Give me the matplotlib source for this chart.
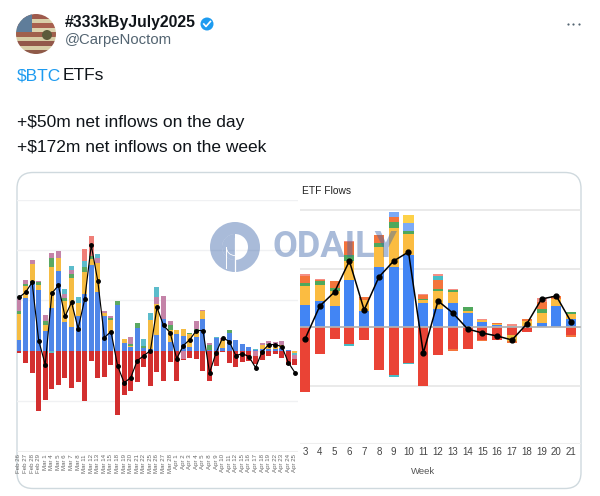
import matplotlib
matplotlib.use("Agg")
import matplotlib.pyplot as plt
from matplotlib.patches import Circle, FancyBboxPatch, Rectangle, Wedge

W, H = 600, 496
plt.rcParams['font.family'] = ['Liberation Sans', 'DejaVu Sans']

# left panel, daily flows in $m
days = ["Feb 26", "Feb 27", "Feb 28", "Feb 29", "Mar 1", "Mar 4", "Mar 5", "Mar 6", "Mar 7", "Mar 8", "Mar 11",
        "Mar 12", "Mar 13", "Mar 14", "Mar 15", "Mar 18", "Mar 19", "Mar 20", "Mar 21", "Mar 22", "Mar 25",
        "Mar 26", "Mar 27", "Mar 28", "Apr 1", "Apr 2", "Apr 3", "Apr 4", "Apr 5", "Apr 8", "Apr 9", "Apr 10",
        "Apr 11", "Apr 12", "Apr 15", "Apr 16", "Apr 17", "Apr 18", "Apr 19", "Apr 22", "Apr 23", "Apr 24", "Apr 25"]
day_blue = [110, 520, 690, 600, 200, 420, 790, 280, 240, 340, 560, 850, 580, 340, 180, 450, 80, 40, 230, 30, 20,
            160, 310, 90, 170, 150, 40, 140, 310, 10, 130, 30, 180, 110, 70, 35, 10, 20, 20, 20, 30, 10, 0]
day_yellow = [250, 120, 170, 50, 50, 410, 130, 210, 480, 130, 220, 60, 290, 30, 120, 0, 40, 10, 0, 0, 280,
              300, 0, 120, 40, 70, 130, 50, 80, 0, 0, 80, 0, 0, 0, 0, 0, 40, 40, 30, 30, 0, 0]
day_green = [35, 20, 0, 30, 40, 90, 0, 30, 40, 0, 50, 30, 0, 0, 20, 40, 0, 20, 40, 20, 0,
             0, 0, 40, 0, 0, 10, 30, 0, 50, 0, 0, 30, 0, 0, 0, 0, 0, 10, 0, 0, 0, 0]
day_purple = [115, 40, 40, 10, 60, 50, 70, 40, 40, 0, 0, 0, 50, 20, 20, 0, 0, 70, 0, 0, 0,
              70, 230, 40, 0, 0, 0, 70, 10, 20, 0, 20, 0, 0, 0, 0, 0, 20, 30, 40, 40, 0, 0]
day_teal = [0, 0, 0, 0, 0, 0, 0, 50, 40, 60, 60, 0, 40, 0, 0, 0, 0, 0, 0, 70, 70,
            100, 0, 0, 0, 0, 0, 0, 0, 0, 10, 0, 0, 0, 0, 0, 10, 0, 0, 0, 0, 0, 0]
day_salmon = [0, 0, 0, 0, 0, 0, 0, 0, 0, 0, 120, 200, 0, 0, 0, 0, 0, 0, 0, 0, 0,
              0, 0, 0, 0, 0, 0, 0, 0, 0, 0, 0, 0, 0, 0, 0, 0, 0, 0, 0, 0, 0, 0]
day_red = [-20, -120, -220, -600, -490, -380, -340, -270, -370, -310, -500, -100, -270, -260, -140, -640, -440, -400,
           -310, -160, -350, -210, -300, -110, -300, -80, -70, -80, -200, -300, -150, -10, -120, -160, -110, -100,
           -130, -90, -50, -30, -70, -140, -140]
day_neg_yellow = [0] * 42 + [-20]
day_neg_teal = [0] * 5 + [-20] + [0] * 36 + [-20]
day_neg_pink = [0] * 25 + [-90] + [0] * 10 + [-50] + [0] * 5 + [-40]
day_net = [530, 580, 680, 100, -140, 570, 650, 340, 480, 220, 510, 1050, 690, 130, 190, -150, -320, -270, -100, -50,
           0, 430, 250, 180, -80, 50, 110, 200, 200, -220, -20, 130, 90, -50, -30, -60, -170, -10, 60, 60, 40, -120, -220]

# right panel, weekly flows in $m
weeks = [3, 4, 5, 6, 7, 8, 9, 10, 11, 12, 13, 14, 15, 16, 17, 18, 19, 20, 21]
wk_blue = [376, 445, 359, 804, 274, 1026, 1026, 1231, 410, 308, 410, 239, 86, 34, 0, 17, 68, 359, 137]
wk_yellow = [325, 274, 257, 325, 188, 342, 667, 359, 51, 308, 188, 34, 34, 17, 0, 86, 171, 120, 86]
wk_green = [51, 68, 51, 103, 0, 68, 103, 51, 17, 34, 34, 68, 0, 0, 0, 0, 68, 0, 34]
wk_orange = [120, 17, 120, 222, 51, 137, 86, 0, 68, 154, 0, 0, 0, 17, 0, 34, 120, 51, 0]
wk_teal = [0, 0, 0, 0, 0, 0, 0, 0, 0, 68, 0, 0, 0, 0, 17, 0, 0, 0, 0]
wk_light = [0, 0, 0, 0, 0, 0, 86, 137, 0, 0, 0, 0, 0, 0, 0, 0, 0, 0, 0]
wk_top = [0, 0, 0, 0, 0, 0, 0, 137, 0, 0, 0, 0, 0, 0, 0, 0, 0, 0, 0]
wk_pale = [34, 17, 0, 17, 0, 0, 0, 0, 17, 34, 17, 0, 17, 0, 34, 0, 68, 0, 0]
wk_red = [-1112, -462, -205, -291, -222, -735, -821, -616, -1009, -479, -376, -376, -222, -222, -137, -86, 0, 0, -137]
wk_neg_teal = [0, 0, 0, -34, 0, 0, -34, -17, 0, 0, 0, 0, 0, 0, 0, 0, 0, 0, 0]
wk_neg_yellow = [0, 0, 0, 0, 0, 0, 0, 0, 0, 0, 0, 0, 0, 0, -103, 0, 0, 0, 0]
wk_neg_orange = [0, 0, 0, 0, 0, 0, 0, 0, 0, 0, -34, 0, -17, 0, -34, 0, 0, 0, -34]
wk_net = [-205, 359, 599, 1129, 291, 855, 1129, 1283, -445, 445, 239, -34, -103, -154, -222, 51, 479, 530, 86]


def px_axes(fig, x0, y0, x1, y1):
    # axes from pixel box, y counted from the top of the image
    return fig.add_axes([x0 / W, 1 - y1 / H, (x1 - x0) / W, (y1 - y0) / H])


def stack(ax, x, series, colors, width):
    base = [0] * len(x)
    for vals, col in zip(series, colors):
        ax.bar(x, vals, width, bottom=base, color=col, linewidth=0, zorder=2)
        base = [b + v for b, v in zip(base, vals)]


def clean(ax):
    for s in ax.spines.values():
        s.set_visible(False)
    ax.patch.set_alpha(0)
    ax.tick_params(length=0)


fig = plt.figure(figsize=(W / 100, H / 100), dpi=100, facecolor='white')

# tweet chrome, drawn in pixel coordinates
bg = fig.add_axes([0, 0, 1, 1], zorder=0)
bg.set_xlim(0, W)
bg.set_ylim(H, 0)
bg.axis('off')

card = FancyBboxPatch((17, 172.5), 564, 316, boxstyle="round,pad=0,rounding_size=16",
                      facecolor='white', edgecolor='#cfd9de', linewidth=1)
bg.add_patch(card)

clip = Circle((36, 34), 20, transform=bg.transData)
stripes = ['#9e5a4c', '#d9cfa8', '#a8604e', '#dcd4ae', '#a0604c', '#d6cca4', '#93584a', '#d8cda6', '#8f5a48']
for i, col in enumerate(stripes):
    r = Rectangle((16, 14 + i * 4.5), 40, 4.6, facecolor=col, linewidth=0)
    bg.add_patch(r)
    r.set_clip_path(clip)
canton = Rectangle((16, 14), 16, 18, facecolor='#5f7d9a', linewidth=0)
bg.add_patch(canton)
canton.set_clip_path(clip)
blob = Circle((47, 35), 5, facecolor='#5c5a3a', linewidth=0)
bg.add_patch(blob)
figure = Wedge((40, 54), 13, 40, 130, facecolor='#6e3a32', linewidth=0)
bg.add_patch(figure)
figure.set_clip_path(clip)

bg.text(65, 23, "#333kByJuly2025", fontsize=11.3, fontweight='bold', color='#0f1419', va='center')
bg.text(65, 40, "@CarpeNoctom", fontsize=10.7, color='#536471', va='center')
bg.add_patch(Circle((207, 24), 6.5, facecolor='#1d9bf0', linewidth=0, zorder=3))
bg.plot([203.8, 206, 210.4], [24, 26.5, 21.5], color='white', lw=1.2, zorder=4)
bg.scatter([567.5, 573, 578.5], [23.5, 23.5, 23.5], s=2.5, color='#536471', linewidths=0)

bg.text(17, 76, "$BTC", fontsize=12.5, color='#1d9bf0', va='center')
bg.text(63, 76, "ETFs", fontsize=12.5, color='#0f1419', va='center')
bg.text(17, 123, "+$50m net inflows on the day", fontsize=12.5, color='#0f1419', va='center')
bg.text(17, 147, "+$172m net inflows on the week", fontsize=12.5, color='#0f1419', va='center')

# left chart
ax1 = px_axes(fig, 17, 200, 298, 452)
clean(ax1)
xd = list(range(len(days)))
stack(ax1, xd, [day_blue, day_yellow, day_green, day_purple, day_teal, day_salmon],
      ['#4f86e8', '#f5bc42', '#5aa862', '#c483a8', '#5cbccb', '#ef7f78'], 0.76)
stack(ax1, xd, [day_neg_yellow, day_neg_teal, day_neg_pink], ['#f5bc42', '#5cbccb', '#cf7f9f'], 0.76)
neg_base = [a + b + c for a, b, c in zip(day_neg_yellow, day_neg_teal, day_neg_pink)]
ax1.bar(xd, [r - b for r, b in zip(day_red, neg_base)], 0.76, bottom=neg_base, color='#d32f2f', linewidth=0, zorder=2)
ax1.plot(xd, day_net, color='black', lw=0.85, marker='o', ms=2.5, zorder=3)
ax1.set_xlim(-0.30, 42.46)
ax1.set_ylim(-1010, 1500)
ax1.set_yticks([-500, 0, 500, 1000, 1500])
ax1.set_yticklabels([])
ax1.grid(axis='y', color='#f0f1f3', lw=1, zorder=0)
ax1.set_xticks(xd)
ax1.set_xticklabels(days, rotation=90, fontsize=4.4, color='#666666')
ax1.tick_params(axis='x', pad=1.5)
ax1.axhline(-1010, color='#eeeeee', lw=1.5, zorder=1)

# right chart
ax2 = px_axes(fig, 300, 200, 581, 444)
clean(ax2)
stack(ax2, weeks, [wk_blue, wk_yellow, wk_green, wk_orange, wk_teal, wk_light, wk_top, wk_pale],
      ['#4285f4', '#fbbc41', '#4fa85c', '#f4743b', '#46bdc6', '#7baaf7', '#fdd148', '#f58f85'], 0.68)
stack(ax2, weeks, [wk_red, wk_neg_teal, wk_neg_yellow, wk_neg_orange],
      ['#ea4335', '#46bdc6', '#e8b93c', '#f4743b'], 0.68)
ax2.plot(weeks, wk_net, color='black', lw=1.1, marker='o', ms=3.5, zorder=3)
ax2.set_xlim(2.66, 21.67)
ax2.set_ylim(-2000, 2171)
ax2.set_yticks([-1000, 0, 1000, 2000])
ax2.set_yticklabels([])
ax2.grid(axis='y', color='#e6e6e6', lw=1.2, zorder=0)
ax2.axhline(0, color='#b5b5b5', lw=1.2, zorder=2.5)
ax2.axhline(-2000, color='#eeeeee', lw=1.5, zorder=1)
ax2.set_xticks(weeks)
ax2.set_xticklabels([str(w) for w in weeks], fontsize=7, color='#444444')
ax2.tick_params(axis='x', pad=2.5)

bg.text(302, 190.5, "ETF Flows", fontsize=7.4, color='#222222', va='center')
bg.text(423, 471.5, "Week", fontsize=6.8, color='#555555', ha='center', va='center')

# watermark on top of everything
top = fig.add_axes([0, 0, 1, 1], zorder=10)
top.set_xlim(0, W)
top.set_ylim(H, 0)
top.axis('off')
mark = '#4068ab'
top.add_patch(Wedge((235, 247), 25, 0, 360, width=12, facecolor=mark, alpha=0.45, linewidth=0))
top.add_patch(Wedge((235, 247), 13, 90, 270, facecolor=mark, alpha=0.45, linewidth=0))
top.plot([235, 235], [272, 238], color='white', lw=0.9)
top.add_patch(Wedge((235, 247), 9, 90, 180, width=0.8, facecolor='white', linewidth=0))
top.plot([226, 226], [247, 268], color='white', lw=0.7)
top.text(272, 247, "ODAILY", fontsize=26, fontweight='bold', color=mark, alpha=0.45, va='center', family='Roboto')

fig.savefig("out.png", dpi=100)
